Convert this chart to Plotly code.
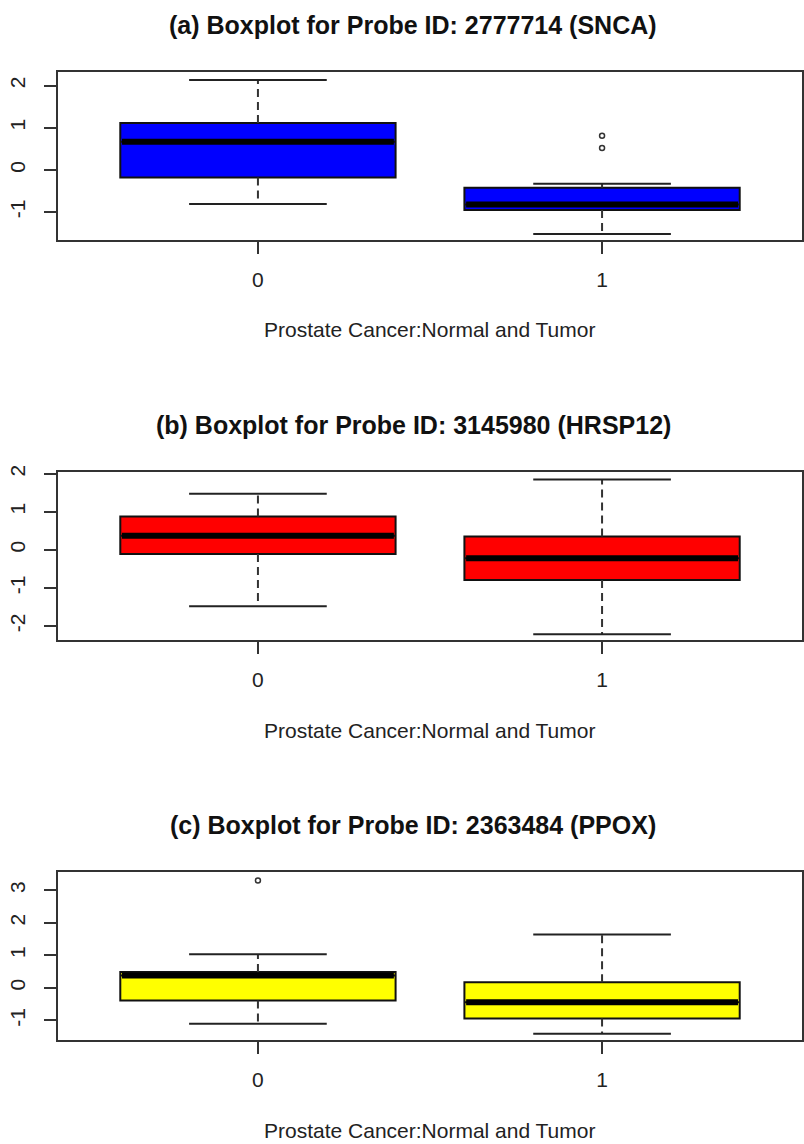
import numpy as np
import plotly.graph_objects as go

# ---------------- data ----------------
groups = [0, 1]
group_labels = ["0", "1"]

titles = [
    "(a) Boxplot for Probe ID: 2777714 (SNCA)",
    "(b) Boxplot for Probe ID: 3145980 (HRSP12)",
    "(c) Boxplot for Probe ID: 2363484 (PPOX)",
]
xlabel = "Prostate Cancer:Normal and Tumor"
colors = ["#0000FF", "#FF0000", "#FFFF00"]

# panel (a) SNCA
a_low = [-0.81, -1.52]
a_q1 = [-0.18, -0.95]
a_med = [0.67, -0.82]
a_q3 = [1.11, -0.42]
a_high = [2.13, -0.33]
a_out_x = [1, 1]
a_out_y = [0.81, 0.52]

# panel (b) HRSP12
b_low = [-1.48, -2.22]
b_q1 = [-0.11, -0.79]
b_med = [0.37, -0.22]
b_q3 = [0.88, 0.35]
b_high = [1.48, 1.85]
b_out_x = []
b_out_y = []

# panel (c) PPOX
c_low = [-1.10, -1.41]
c_q1 = [-0.39, -0.94]
c_med = [0.38, -0.44]
c_q3 = [0.49, 0.17]
c_high = [1.03, 1.64]
c_out_x = [0]
c_out_y = [3.30]

panels = [
    (a_low, a_q1, a_med, a_q3, a_high, a_out_x, a_out_y),
    (b_low, b_q1, b_med, b_q3, b_high, b_out_x, b_out_y),
    (c_low, c_q1, c_med, c_q3, c_high, c_out_x, c_out_y),
]
y_ranges = [[-1.66, 2.32], [-2.37, 2.05], [-1.60, 3.56]]
y_ticks = [[-1, 0, 1, 2], [-2, -1, 0, 1, 2], [-1, 0, 1, 2, 3]]

# ---------------- layout geometry ----------------
W, H = 804, 1144
FONT = "Liberation Sans, Arial, sans-serif"
box_w = 0.8
cap_half = 0.2
plot_left, plot_right = 58, 802
panel_tops = [72, 472, 872]
panel_h = 168

fig = go.Figure()

for p, (low, q1, med, q3, high, ox, oy) in enumerate(panels):
    xa = "x" if p == 0 else f"x{p+1}"
    ya = "y" if p == 0 else f"y{p+1}"
    g = np.array(groups, dtype=float)

    # dashed whiskers
    wx, wy = [], []
    for i in range(len(groups)):
        wx += [g[i], g[i], None, g[i], g[i], None]
        wy += [q3[i], high[i], None, q1[i], low[i], None]
    fig.add_trace(go.Scatter(x=wx, y=wy, mode="lines", xaxis=xa, yaxis=ya,
                             line=dict(color="#333333", width=2, dash="8px,5px"),
                             hoverinfo="skip", showlegend=False))
    # caps
    cx, cy = [], []
    for i in range(len(groups)):
        cx += [g[i] - cap_half, g[i] + cap_half, None, g[i] - cap_half, g[i] + cap_half, None]
        cy += [high[i], high[i], None, low[i], low[i], None]
    fig.add_trace(go.Scatter(x=cx, y=cy, mode="lines", xaxis=xa, yaxis=ya,
                             line=dict(color="#222222", width=2),
                             hoverinfo="skip", showlegend=False))
    # boxes
    fig.add_trace(go.Box(x=list(g), q1=q1, median=med, q3=q3,
                         lowerfence=q1, upperfence=q3,
                         width=box_w, whiskerwidth=0,
                         fillcolor=colors[p], line=dict(color="#111111", width=2),
                         xaxis=xa, yaxis=ya, showlegend=False, hoverinfo="skip"))
    # thick medians
    mx, my = [], []
    for i in range(len(groups)):
        mx += [g[i] - box_w / 2 + 0.005, g[i] + box_w / 2 - 0.005, None]
        my += [med[i], med[i], None]
    fig.add_trace(go.Scatter(x=mx, y=my, mode="lines", xaxis=xa, yaxis=ya,
                             line=dict(color="#000000", width=6),
                             hoverinfo="skip", showlegend=False))
    # outliers
    if len(ox):
        fig.add_trace(go.Scatter(x=ox, y=oy, mode="markers", xaxis=xa, yaxis=ya,
                                 marker=dict(symbol="circle-open", size=5,
                                             color="#333333", line=dict(width=1.5)),
                                 hoverinfo="skip", showlegend=False))

    top = panel_tops[p]
    bottom = top + panel_h
    yd = [(H - bottom) / H, (H - top) / H]
    xd = [plot_left / W, plot_right / W]
    axis_common = dict(showline=True, mirror=True, linecolor="#333333", linewidth=2,
                       showgrid=False, zeroline=False, ticks="outside", ticklen=12,
                       tickwidth=2, tickcolor="#333333", automargin=False,
                       tickfont=dict(family=FONT, size=21, color="#222222"))
    xkey = "xaxis" if p == 0 else f"xaxis{p+1}"
    ykey = "yaxis" if p == 0 else f"yaxis{p+1}"
    fig.update_layout(**{
        xkey: dict(domain=xd, range=[-0.581, 1.581], tickmode="array",
                   tickvals=groups, ticktext=group_labels, anchor=ya,
                   ticklabelstandoff=8, **axis_common),
        ykey: dict(domain=yd, range=y_ranges[p], tickmode="array",
                   tickvals=y_ticks[p], ticktext=[str(t) for t in y_ticks[p]],
                   tickangle=-90, anchor=xa, ticklabelstandoff=11, **axis_common),
    })
    # title
    fig.add_annotation(text=f"<b>{titles[p]}</b>", xref="paper", yref="paper",
                       x=413 / W, y=(H - (top - 47)) / H, xanchor="center", yanchor="middle",
                       showarrow=False, font=dict(family=FONT, size=25, color="#111111"))
    # x label
    fig.add_annotation(text=xlabel, xref="paper", yref="paper",
                       x=429 / W, y=(H - (bottom + 90)) / H, xanchor="center", yanchor="middle",
                       showarrow=False, font=dict(family=FONT, size=21, color="#222222"))

fig.update_layout(width=W, height=H, autosize=False, template="none",
                  margin=dict(l=0, r=0, t=0, b=0, autoexpand=False),
                  paper_bgcolor="white", plot_bgcolor="white")

fig.write_html("out.html", config={"displayModeBar": False},
               post_script="document.body.style.margin='0';document.body.style.padding='0';"
                           "document.body.style.overflow='hidden';")
